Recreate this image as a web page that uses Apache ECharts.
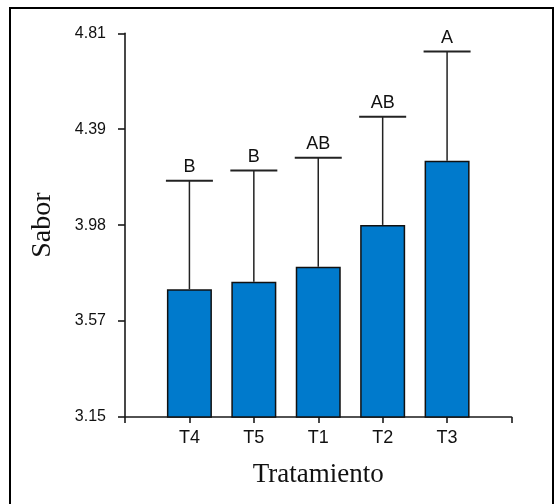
<!DOCTYPE html>
<html>
<head>
<meta charset="utf-8">
<script src="https://cdn.jsdelivr.net/npm/echarts@6/dist/echarts.min.js"></script>
<style>
html,body{margin:0;padding:0;background:#fff;}
#chart{width:558px;height:504px;}
</style>
</head>
<body>
<div id="chart"></div>
<script>
var categories = ['T4', 'T5', 'T1', 'T2', 'T3'];
var means = [3.703, 3.735, 3.800, 3.981, 4.259];
var upperErr = [4.172, 4.216, 4.272, 4.449, 4.731];
var letters = ['B', 'B', 'AB', 'AB', 'A'];
var yTickValues = [3.15, 3.565, 3.98, 4.395, 4.81];
var yTickLabels = ['3.15', '3.57', '3.98', '4.39', '4.81'];

var barData = categories.map(function (c, i) { return [i + 1, means[i]]; });
var errData = categories.map(function (c, i) { return [i + 1, means[i], upperErr[i], letters[i]]; });

var chart = echarts.init(document.getElementById('chart'), null, {renderer: 'canvas'});
var option = {
  animation: false,
  backgroundColor: '#ffffff',
  grid: {left: 125, right: 46.5, top: 33.3, bottom: 87},
  xAxis: {
    type: 'value', min: 0, max: 6, interval: 1,
    splitLine: {show: false},
    axisLine: {show: true, onZero: false, lineStyle: {color: '#1a1a1a', width: 1.6}},
    axisTick: {show: true, length: 6, lineStyle: {color: '#1a1a1a', width: 1.6}},
    axisLabel: {
      margin: 12, color: '#111', fontFamily: 'Liberation Sans, Arial', fontSize: 18,
      formatter: function (v) { var k = Math.round(v) - 1; return (k >= 0 && k < categories.length) ? categories[k] : ''; }
    },
    name: 'Tratamiento', nameLocation: 'middle', nameGap: 44,
    nameTextStyle: {fontFamily: 'Liberation Serif, Times New Roman', fontSize: 27, color: '#111'}
  },
  yAxis: {
    type: 'value', min: 3.15, max: 4.81,
    splitLine: {show: false},
    axisLine: {show: true, lineStyle: {color: '#1a1a1a', width: 1.6}},
    axisTick: {show: true, length: 7, customValues: yTickValues, lineStyle: {color: '#1a1a1a', width: 1.6}},
    axisLabel: {
      margin: 19, color: '#111', fontFamily: 'Liberation Sans, Arial', fontSize: 16,
      customValues: yTickValues,
      formatter: function (v) {
        var best = 0, bd = 1e9;
        for (var i = 0; i < yTickValues.length; i++) { var d = Math.abs(yTickValues[i] - v); if (d < bd) { bd = d; best = i; } }
        return yTickLabels[best];
      }
    },
    name: 'Sabor', nameLocation: 'middle', nameGap: 68, nameRotate: 90,
    nameTextStyle: {fontFamily: 'Liberation Serif, Times New Roman', fontSize: 28, color: '#111'}
  },
  graphic: [{
    type: 'rect', z: 100, silent: true,
    shape: {x: 10, y: 8, width: 543, height: 520},
    style: {fill: 'none', stroke: '#000', lineWidth: 2}
  }],
  series: [
    {
      type: 'bar', data: barData, barWidth: 45,
      itemStyle: {color: '#007ACC', borderColor: '#111', borderWidth: 1.5},
      z: 3
    },
    {
      type: 'custom', data: errData, z: 2,
      renderItem: function (params, api) {
        var x = api.value(0);
        var pLow = api.coord([x, api.value(1)]);
        var pHigh = api.coord([x, api.value(2)]);
        var half = 23.5;
        return {
          type: 'group',
          children: [
            {type: 'line', shape: {x1: pLow[0], y1: pLow[1], x2: pHigh[0], y2: pHigh[1]}, style: {stroke: '#222', lineWidth: 1.5}},
            {type: 'line', shape: {x1: pHigh[0] - half, y1: pHigh[1], x2: pHigh[0] + half, y2: pHigh[1]}, style: {stroke: '#222', lineWidth: 2}},
            {type: 'text', style: {x: pHigh[0], y: pHigh[1] - 5, text: api.value(3), textAlign: 'center', textVerticalAlign: 'bottom', fontFamily: 'Liberation Sans, Arial', fontSize: 18, fill: '#111'}}
          ]
        };
      }
    }
  ]
};
chart.setOption(option);
</script>
</body>
</html>
